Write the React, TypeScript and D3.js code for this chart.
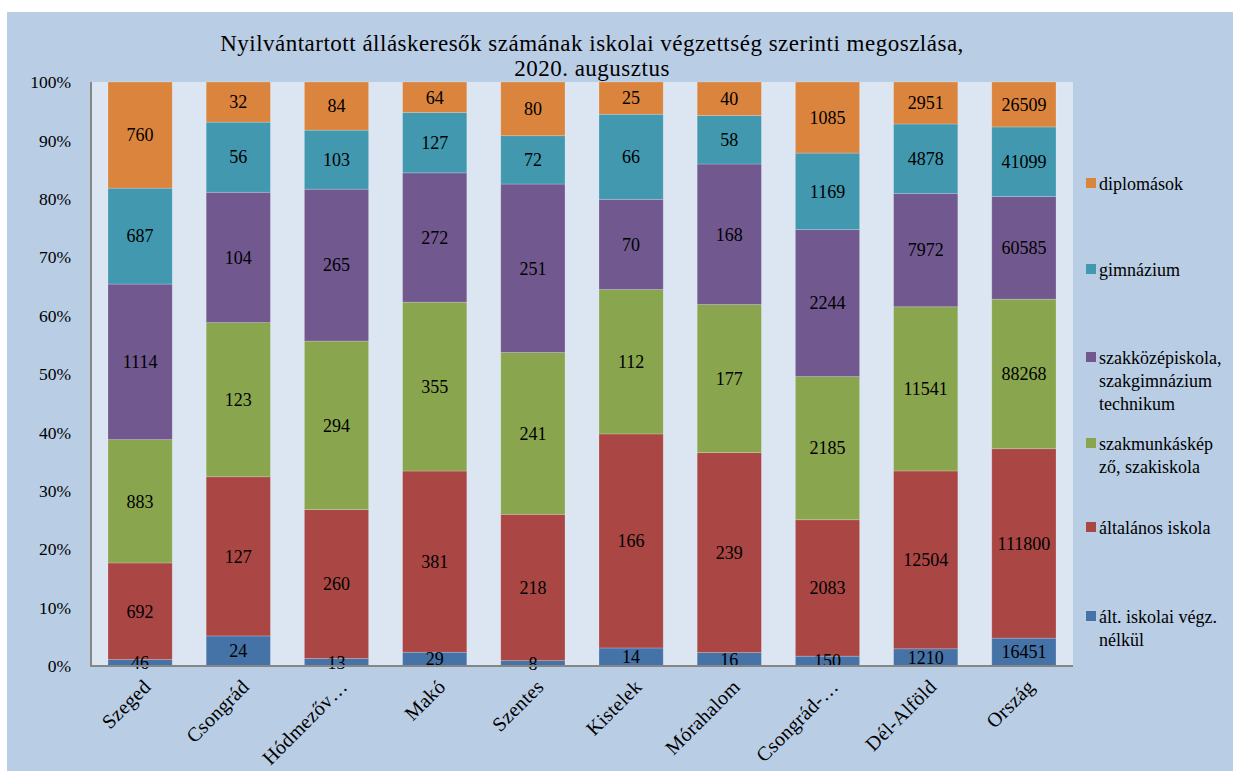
import React from "react";
import * as d3 from "d3";

const categories = ["Szeged", "Csongrád", "Hódmezőv…", "Makó", "Szentes", "Kistelek", "Mórahalom", "Csongrád-…", "Dél-Alföld", "Ország"];

const seriesNames = [
  "ált. iskolai végz. nélkül",
  "általános iskola",
  "szakmunkásképző, szakiskola",
  "szakközépiskola, szakgimnázium technikum",
  "gimnázium",
  "diplomások",
];

const noSchool = [46, 24, 13, 29, 8, 14, 16, 150, 1210, 16451];
const primary = [692, 127, 260, 381, 218, 166, 239, 2083, 12504, 111800];
const vocational = [883, 123, 294, 355, 241, 112, 177, 2185, 11541, 88268];
const secondaryVoc = [1114, 104, 265, 272, 251, 70, 168, 2244, 7972, 60585];
const grammar = [687, 56, 103, 127, 72, 66, 58, 1169, 4878, 41099];
const graduates = [760, 32, 84, 64, 80, 25, 40, 1085, 2951, 26509];

const seriesValues = [noSchool, primary, vocational, secondaryVoc, grammar, graduates];
const colors = ["#4572A7", "#AA4643", "#89A54E", "#71588F", "#4198AF", "#DB843D"];

const legendLines: string[][] = [
  ["ált. iskolai végz.", "nélkül"],
  ["általános iskola"],
  ["szakmunkáskép", "ző, szakiskola"],
  ["szakközépiskola,", "szakgimnázium", "technikum"],
  ["gimnázium"],
  ["diplomások"],
];
const legendY = [617, 528, 444, 358, 270, 184];

const yTicks = [0, 0.1, 0.2, 0.3, 0.4, 0.5, 0.6, 0.7, 0.8, 0.9, 1];

const W = 1233;
const H = 771;
const px0 = 91, px1 = 1073, py0 = 82, py1 = 666;
const FONT = "'Liberation Serif', 'Times New Roman', serif";

export default function App() {
  const x = d3.scaleBand<string>().domain(categories).range([px0, px1]).paddingInner(0.346).paddingOuter(0.173);
  const y = d3.scaleLinear().domain([0, 1]).range([py1, py0]);

  const rows = categories.map((c, i) => {
    const r: any = { cat: c };
    seriesValues.forEach((s, k) => (r["s" + k] = s[i]));
    return r;
  });
  const keys = seriesValues.map((_, k) => "s" + k);
  const stack = d3.stack<any>().keys(keys).offset(d3.stackOffsetExpand);
  const stacked = stack(rows);

  return (
    <svg width={W} height={H} style={{ position: "absolute", left: 0, top: 0, fontFamily: FONT }}>
      <rect x={0} y={0} width={W} height={H} fill="#ffffff" />
      <rect x={7} y={12} width={W - 7} height={H - 12} fill="#B9CDE5" />
      <rect x={px0} y={py0} width={px1 - px0} height={py1 - py0} fill="#DCE6F2" />
      <text x={592} y={51} textAnchor="middle" fontSize={23} letterSpacing={0.5} fill="#000">
        Nyilvántartott álláskeresők számának iskolai végzettség szerinti megoszlása,
      </text>
      <text x={592} y={76} textAnchor="middle" fontSize={23} letterSpacing={0.5} fill="#000">
        2020. augusztus
      </text>
      {stacked.map((layer, k) => (
        <g key={k}>
          {layer.map((d, i) => (
            <rect
              key={i}
              x={x(categories[i])!}
              y={y(d[1])}
              width={x.bandwidth()}
              height={y(d[0]) - y(d[1])}
              fill={colors[k]}
              stroke="#ffffff"
              strokeOpacity={0.25}
              strokeWidth={0.8}
            />
          ))}
        </g>
      ))}
      {stacked.map((layer, k) => (
        <g key={"l" + k}>
          {layer.map((d, i) => (
            <text
              key={i}
              x={x(categories[i])! + x.bandwidth() / 2}
              y={(y(d[0]) + y(d[1])) / 2}
              dy="0.35em"
              textAnchor="middle"
              fontSize={18}
              fill="#000"
            >
              {seriesValues[k][i]}
            </text>
          ))}
        </g>
      ))}
      <line x1={px0} y1={py0} x2={px0} y2={py1 + 1} stroke="#868686" strokeWidth={2} />
      <line x1={px0} y1={py1} x2={px1} y2={py1} stroke="#868686" strokeWidth={2} />
      {yTicks.map((t) => (
        <text key={t} x={71} y={y(t)} dy="0.35em" textAnchor="end" fontSize={17.5} fill="#000">
          {d3.format(".0%")(t)}
        </text>
      ))}
      {categories.map((c) => (
        <text
          key={c}
          transform={`translate(${x(c)! + x.bandwidth() / 2 + 12},${688}) rotate(-45)`}
          textAnchor="end"
          fontSize={20}
          letterSpacing={0.3}
          fill="#000"
        >
          {c}
        </text>
      ))}
      {legendLines.map((lines, k) => (
        <g key={k}>
          <rect x={1086} y={legendY[k] - 6} width={10} height={10} fill={colors[k]} />
          {lines.map((ln, j) => (
            <text key={j} x={1099} y={legendY[k] + j * 23} dy="0.35em" fontSize={18} fill="#000">
              {ln}
            </text>
          ))}
        </g>
      ))}
    </svg>
  );
}
